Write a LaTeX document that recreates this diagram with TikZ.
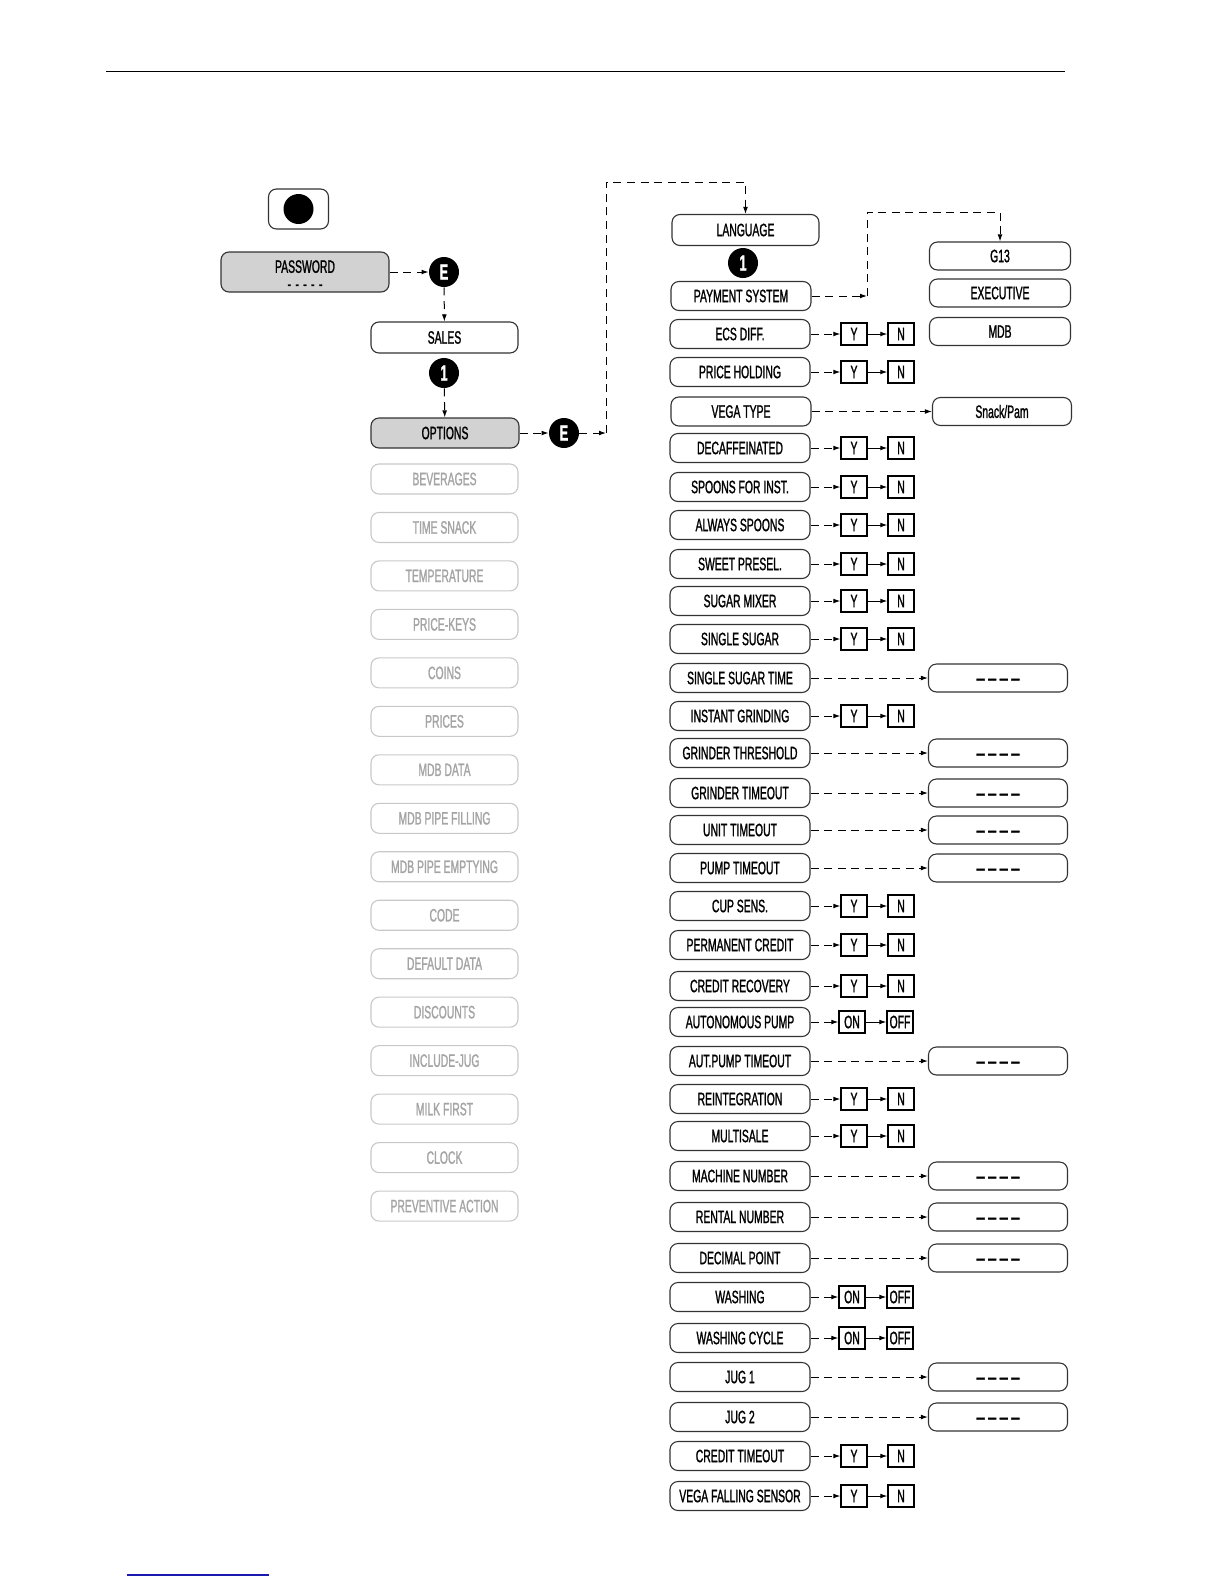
\documentclass[tikz,border=0pt]{standalone}
\usepackage{fontspec}
\setmainfont{Liberation Sans}[FakeStretch=0.58,FakeBold=1.2]
\usetikzlibrary{arrows.meta,positioning}
\definecolor{panelgrey}{HTML}{D2D2D2}
\definecolor{fadeline}{HTML}{C8C8C8}
\definecolor{fadetext}{HTML}{A4A4A4}
\definecolor{linkblue}{HTML}{1A1AB0}
\newcommand{\boxfont}{\fontsize{9}{9}\selectfont}
\newcommand{\blanks}{{\fontsize{12}{12}\selectfont\_ \_ \_ \_}}
\tikzset{
  >={Latex[length=3.5bp,width=2.4bp]},
  % boxes
  mb/.style={draw=black!80,line width=0.55bp,rounded corners=4bp,inner sep=0pt,
             minimum width=70bp,minimum height=14.5bp,font=\boxfont},
  pb/.style={mb,fill=panelgrey},
  gb/.style={draw=fadeline,line width=0.55bp,rounded corners=4bp,inner sep=0pt,
             minimum width=73.5bp,minimum height=15bp,font=\boxfont,text=fadetext},
  vb/.style={mb,minimum width=69.5bp,minimum height=14bp},
  yb/.style={draw=black,line width=0.65bp,inner sep=0pt,minimum width=13bp,
             minimum height=11bp,font=\boxfont},
  ec/.style={circle,fill=black,text=white,inner sep=0pt,minimum size=15bp,
             font=\bfseries\fontsize{11}{11}\selectfont},
  % lines
  de/.style={->,line width=0.5bp,dash pattern=on 4bp off 2.8bp},
  se/.style={->,line width=0.5bp},
}
\begin{document}
\begin{tikzpicture}[x=0.5bp,y=-0.5bp]
  \useasboundingbox (0,0) rectangle (1224,1584);
  \draw[line width=0.5bp] (106,71) -- (1065,71);
  \draw[linkblue,line width=0.8bp] (127,1575) -- (269,1575);

  % left part
  \node[mb,minimum width=30bp,minimum height=20bp] (key) at (298.5,209) {};
  \node[circle,fill=black,minimum size=15bp,inner sep=0pt] (keydot) at (key) {};
  \node[pb,minimum width=84bp,minimum height=20bp] (pw) at (305,272)
    {\smash{\raisebox{-9bp}{\shortstack{PASSWORD\\[2.8bp]-\hspace{2.2bp}-\hspace{2.2bp}-\hspace{2.2bp}-\hspace{2.2bp}-}}}};
  \node[ec] (e1) at (444,272) {E};
  \node[mb,minimum width=73.5bp,minimum height=15.5bp] (sales) at (444.5,337.5) {SALES};
  \node[ec] (one1) at (444,373) {1};
  \node[pb,minimum width=74bp,minimum height=15bp] (opt) at (445,433) {OPTIONS};
  \node[ec] (e2) at (564,433) {E};
  \draw[de] (pw) -- (e1);
  \draw[de] (e1) -- (sales);
  \draw[de] (one1) -- (opt);
  \draw[de] (opt) -- (e2);

  \foreach \txt [count=\i] in {BEVERAGES,TIME SNACK,TEMPERATURE,PRICE-KEYS,COINS,
    PRICES,MDB DATA,MDB PIPE FILLING,MDB PIPE EMPTYING,CODE,DEFAULT DATA,
    DISCOUNTS,INCLUDE-JUG,MILK FIRST,CLOCK,PREVENTIVE ACTION}
    \node[gb] (g\i) at (444.5,{479+48.47*(\i-1)}) {\txt};

  % right part
  \node[mb,minimum width=73.5bp,minimum height=15.5bp] (lang) at (745.5,230) {LANGUAGE};
  \node[ec] (one2) at (743,263) {1};
  \node[mb] (pay) at (741,296) {PAYMENT SYSTEM};
  \coordinate (ce) at (606,433);
  \coordinate (ct) at (606,182);
  \draw[de] (e2) -- (ce);
  \draw[de] (ce) -- (ct) -| (lang);

  \node[vb,minimum width=70.5bp] (g13) at (1000,256) {G13};
  \node[vb,minimum width=70.5bp] (exec) at (1000,293) {EXECUTIVE};
  \node[vb,minimum width=70.5bp] (mdb) at (1000,331.5) {MDB};
  \coordinate (cp) at (867,296);
  \coordinate (cq) at (867,212);
  \draw[de] (pay) -- (cp);
  \draw[de] (cp) -- (cq) -| (g13);

  \node[mb] (vega) at (741,411.5) {VEGA TYPE};
  \node[vb] (snack) at (1002,411.5) {Snack/Pam};
  \draw[de] (vega) -- (snack);

  \foreach \name/\yy/\txt in {ecs/334/ECS DIFF.,phold/372/PRICE HOLDING,
    decaf/448/DECAFFEINATED,spoons/487/SPOONS FOR INST.,always/525/ALWAYS SPOONS,
    sweet/564/SWEET PRESEL.,mixer/601/SUGAR MIXER,ssugar/639/SINGLE SUGAR,
    instant/716/INSTANT GRINDING,cup/906/CUP SENS.,perm/945/PERMANENT CREDIT,
    recov/986/CREDIT RECOVERY,reint/1099/REINTEGRATION,multi/1136/MULTISALE,
    ctime/1456/CREDIT TIMEOUT,vfall/1496/VEGA FALLING SENSOR}{
    \node[mb] (\name) at (740,\yy) {\txt};
    \node[yb] (\name-y) at (854,\yy) {Y};
    \node[yb] (\name-n) at (901,\yy) {N};
    \draw[de] (\name) -- (\name-y);
    \draw[se] (\name-y) -- (\name-n);
  }

  \foreach \name/\yy/\txt in {apump/1022/AUTONOMOUS PUMP,wash/1297/WASHING,
    wcycle/1338/WASHING CYCLE}{
    \node[mb] (\name) at (740,\yy) {\txt};
    \node[yb] (\name-y) at (852,\yy) {ON};
    \node[yb] (\name-n) at (900,\yy) {OFF};
    \draw[de] (\name) -- (\name-y);
    \draw[se] (\name-y) -- (\name-n);
  }

  \foreach \name/\yy/\txt in {sstime/678/SINGLE SUGAR TIME,gthr/753/GRINDER THRESHOLD,
    gtime/793/GRINDER TIMEOUT,utime/830/UNIT TIMEOUT,ptime/868/PUMP TIMEOUT,
    aptime/1061/AUT.PUMP TIMEOUT,mach/1176/MACHINE NUMBER,rent/1217/RENTAL NUMBER,
    dec/1258/DECIMAL POINT,jug1/1377/JUG 1,jug2/1417/JUG 2}{
    \node[mb] (\name) at (740,\yy) {\txt};
    \node[vb] (\name-v) at (998,\yy) {\blanks};
    \draw[de] (\name) -- (\name-v);
  }
\end{tikzpicture}
\end{document}
